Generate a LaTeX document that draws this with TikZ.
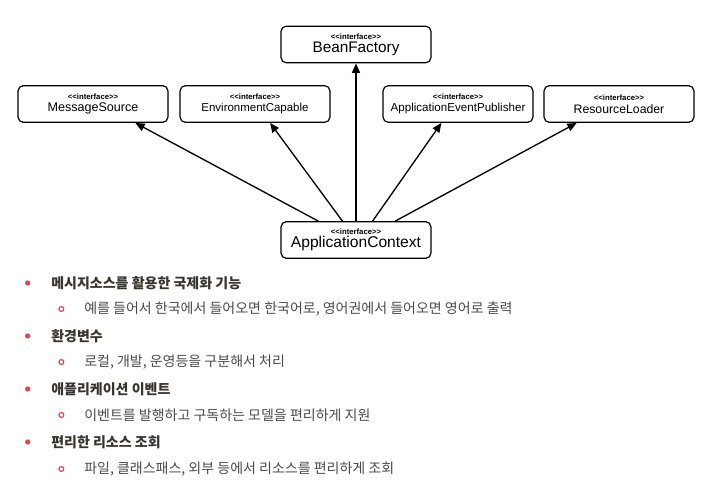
\documentclass[tikz,border=0pt]{standalone}
\usepackage{fontspec}
\setmainfont{Liberation Sans}
\newfontfamily\kofont{Noto Sans CJK KR}
\usepackage{xcolor}
\usepackage{tikz}
\usetikzlibrary{arrows.meta,positioning,calc}
\definecolor{bulletRed}{HTML}{E0474C}
\definecolor{textDark}{HTML}{37352F}
\definecolor{textGray}{HTML}{4A4A4A}

\tikzset{
  ibox/.style={draw, rounded corners=4pt, line width=0.9pt, minimum width=112.5pt,
    minimum height=27.5pt, align=center, inner sep=1pt},
  arr/.style={line width=1pt, -{Triangle[length=7pt,width=6pt]}},
  mainitem/.style={anchor=west, inner sep=0pt, text=textDark, font=\kofont\bfseries\fontsize{10.5}{12}\selectfont},
  subitem/.style={anchor=west, inner sep=0pt, text=textGray, font=\kofont\fontsize{10.5}{12}\selectfont}
}
\newcommand{\ifc}{{\fontsize{5.8}{6}\selectfont\bfseries <{}<interface>{}>}}

\begin{document}
\begin{tikzpicture}[x=0.75pt, y=-0.75pt, >=Latex]
\useasboundingbox (0,0) rectangle (711,496);
% interfaces
\node[ibox] (bean) at (356,44.5) {\ifc\\[-2.5pt]{\fontsize{11.5}{12}\selectfont BeanFactory}};
\node[ibox] (msg) at (93,104) {\ifc\\[-2.5pt]{\fontsize{9.4}{10}\selectfont MessageSource}};
\node[ibox] (env) at (255,104) {\ifc\\[-2.5pt]{\fontsize{8.6}{10}\selectfont EnvironmentCapable}};
\node[ibox] (pub) at (458,104) {\ifc\\[-2.5pt]{\fontsize{8.7}{10}\selectfont ApplicationEventPublisher}};
\node[ibox] (res) at (619,104) {\ifc\\[-2.5pt]{\fontsize{9.2}{10}\selectfont ResourceLoader}};
\node[ibox] (ctx) at (356,240) {\ifc\\[-2.5pt]{\fontsize{11.7}{12}\selectfont ApplicationContext}};
% extends
\draw[arr] ($(ctx.north west)!0.25!(ctx.north east)$) -- ($(msg.south west)!0.78!(msg.south east)$);
\draw[arr] ($(ctx.north west)!0.41!(ctx.north east)$) -- ($(env.south west)!0.6!(env.south east)$);
\draw[arr] (ctx.north) -- (bean.south);
\draw[arr] ($(ctx.north west)!0.61!(ctx.north east)$) -- ($(pub.south west)!0.39!(pub.south east)$);
\draw[arr] ($(ctx.north west)!0.76!(ctx.north east)$) -- ($(res.south west)!0.22!(res.south east)$);

% list
\node[mainitem] (m1) at (51,283) {메시지소스를 활용한 국제화 기능};
\node[subitem] (s1) at (84,309) {예를 들어서 한국에서 들어오면 한국어로, 영어권에서 들어오면 영어로 출력};
\node[mainitem] (m2) at (51,336) {환경변수};
\node[subitem] (s2) at (84,362) {로컬, 개발, 운영등을 구분해서 처리};
\node[mainitem] (m3) at (51,389) {애플리케이션 이벤트};
\node[subitem] (s3) at (84,415) {이벤트를 발행하고 구독하는 모델을 편리하게 지원};
\node[mainitem] (m4) at (51,442) {편리한 리소스 조회};
\node[subitem] (s4) at (84,469) {파일, 클래스패스, 외부 등에서 리소스를 편리하게 조회};
\foreach \n in {m1,m2,m3,m4} {\fill[bulletRed] ([xshift=-17.5pt]\n.west) circle (2pt);}
\foreach \n in {s1,s2,s3,s4} {\draw[bulletRed, line width=0.9pt] ([xshift=-17pt]\n.west) circle (1.8pt);}
\end{tikzpicture}
\end{document}
